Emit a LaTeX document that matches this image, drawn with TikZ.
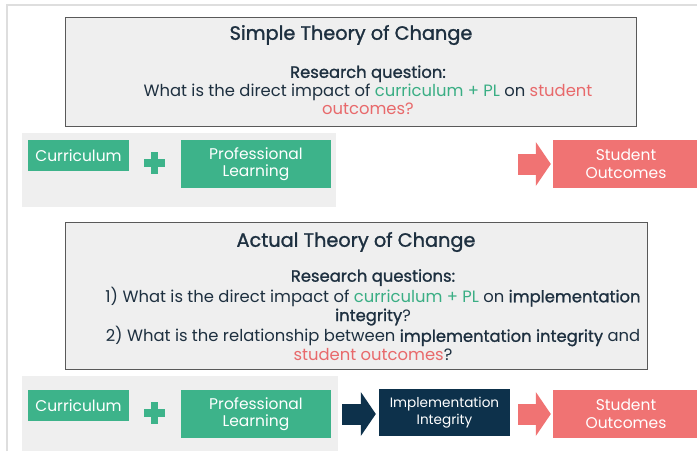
\documentclass[tikz,border=0pt]{standalone}
\usepackage{fontspec}
\setmainfont{Poppins}
\newfontface\semibold{Poppins}[FakeBold=1.2]
\usetikzlibrary{arrows.meta}

\definecolor{tocgreen}{HTML}{3DB38A}
\definecolor{tocpink}{HTML}{F07373}
\definecolor{tocnavy}{HTML}{0D314B}
\definecolor{tocgrey}{HTML}{EFEFEF}
\definecolor{tocink}{HTML}{1E3040}
\definecolor{tocgreentext}{HTML}{3AAE84}
\definecolor{tocpinktext}{HTML}{E8696B}

\newcommand{\tocstrong}[1]{{\semibold #1}}

\tikzset{
  box/.style={rectangle,inner sep=0pt,align=center,text=white,
    font=\fontsize{15.5}{17.5}\selectfont},
  plusbar/.style={fill=tocgreen},
  blockarrow/.style={line width=21pt,
    -{Triangle[length=15pt,width=44pt,line width=0pt]}},
  question/.style={rectangle,fill=tocgrey,draw=black!65,line width=0.8pt},
  panel/.style={fill=tocgrey},
  heading/.style={text=tocink,font=\fontsize{19.3}{22}\selectfont\semibold}
}

\begin{document}
\begin{tikzpicture}[x=1pt,y=-1pt]

      \useasboundingbox (0,0) rectangle (697,451);
      \draw[black!13,line width=2pt] (7,451) -- (7,5) -- (697,5);

      % question boxes
      \draw[question] (65,17) rectangle (636,126);
      \draw[question] (65,222) rectangle (647,369);
      \fill[panel] (22,133) rectangle (336,207);
      \fill[panel] (22,376) rectangle (338,451);

      \node[heading] (title1) at (351,35) {Simple Theory of Change};
      \node[text=tocink,align=center,font=\fontsize{16.4}{18.3}\selectfont] (rq1) at (368,90)
        {\tocstrong{Research question:}\\
         What is the direct impact of \textcolor{tocgreentext}{curriculum + PL} on \textcolor{tocpinktext}{student}\\
         \textcolor{tocpinktext}{outcomes?}};

      \node[heading] (title2) at (356,242) {Actual Theory of Change};
      \node[text=tocink,align=center,font=\fontsize{16.4}{18.8}\selectfont] (rq2) at (373,315)
        {\tocstrong{Research questions:}\\
         1) What is the direct impact of \textcolor{tocgreentext}{curriculum + PL} on \tocstrong{implementation}\\
         \tocstrong{integrity}?\\
         2) What is the relationship between \tocstrong{implementation integrity} and\\
         \textcolor{tocpinktext}{student outcomes}?};

      % simple chain
      \begin{scope}[every node/.style={box}]
        \node[fill=tocgreen,minimum width=101pt,minimum height=31pt] (cur1) at (78.5,155.5) {Curriculum};
        \node[fill=tocgreen,minimum width=150pt,minimum height=48pt] (pl1)  at (256,164) {Professional\\Learning};
        \node[fill=tocpink,minimum width=146pt,minimum height=48pt]  (so1)  at (626,164) {Student\\Outcomes};

        \node[fill=tocgreen,minimum width=101pt,minimum height=31pt] (cur2) at (78.5,405.5) {Curriculum};
        \node[fill=tocgreen,minimum width=150pt,minimum height=48pt] (pl2)  at (256,414) {Professional\\Learning};
        \node[fill=tocnavy,minimum width=131pt,minimum height=47pt,
          font=\fontsize{13.6}{17}\selectfont]                       (ii2)  at (444.5,412.5) {Implementation\\Integrity};
        \node[fill=tocpink,minimum width=146pt,minimum height=48pt]  (so2)  at (626,414) {Student\\Outcomes};
      \end{scope}

      % plus signs
      \coordinate (plus1) at (154.5,163);
      \coordinate (plus2) at (154.5,413);
      \foreach \p in {plus1,plus2} {
        \fill[plusbar] ([xshift=-10.5pt,yshift=-3.7pt]\p) rectangle ([xshift=10.5pt,yshift=3.7pt]\p);
        \fill[plusbar] ([xshift=-3.6pt,yshift=-11pt]\p) rectangle ([xshift=3.6pt,yshift=11pt]\p);
      }

      \coordinate (tail1) at (518,164);

      \draw[blockarrow,tocpink,shorten >=2pt] (tail1) -- (so1.west);
      \draw[blockarrow,tocnavy,shorten <=11pt,shorten >=3pt] (pl2.east) -- (pl2.east -| ii2.west);
      \draw[blockarrow,tocpink,shorten <=8pt,shorten >=2pt] (so2.west -| ii2.east) -- (so2.west);

    \end{tikzpicture}
\end{document}
